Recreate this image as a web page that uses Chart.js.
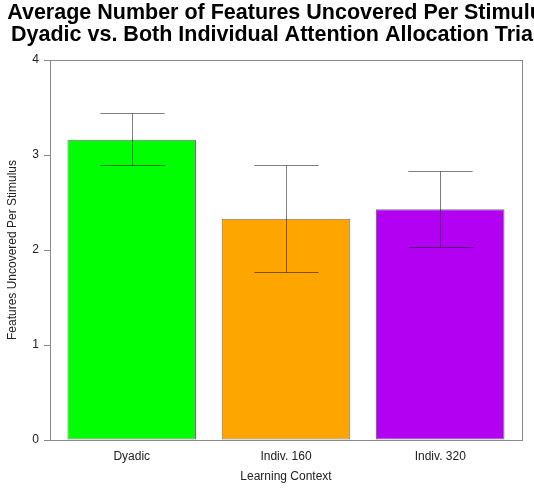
<!DOCTYPE html>
<html>
<head>
<meta charset="utf-8">
<script src="https://cdn.jsdelivr.net/npm/chart.js@4/dist/chart.umd.min.js"></script>
<style>
html,body{margin:0;padding:0;overflow:hidden;background:#fff;width:534px;height:494px;}
#wrap{width:562px;height:494px;}
</style>
</head>
<body>
<div id="wrap"><canvas id="c" width="562" height="494"></canvas></div>
<script>
const categories = ["Dyadic", "Indiv. 160", "Indiv. 320"];
const means = [3.16, 2.33, 2.43];
const lower = [2.89, 1.77, 2.03];
const upper = [3.44, 2.89, 2.83];
const barColors = ["#00FF00", "#FFA500", "#B300F2"];
const yTicks = [0, 1, 2, 3, 4];

const FONT = "'Liberation Sans', Arial, Helvetica, sans-serif";
// R barplot geometry: width 1, space 0.2
const pos = categories.map((c, i) => 0.7 + 1.2 * i);
const xMin = 0.2 - 0.04 * (1.2 * categories.length - 0.2);
const xMax = 1.2 * categories.length + 0.04 * (1.2 * categories.length - 0.2);

const errorBars = {
  id: 'errorBars',
  afterDatasetsDraw(chart) {
    const ctx = chart.ctx;
    const meta = chart.getDatasetMeta(0);
    const ys = chart.scales.y;
    ctx.save();
    ctx.strokeStyle = 'rgba(0,0,0,0.5)';
    ctx.lineWidth = 1;
    meta.data.forEach((bar, i) => {
      const x = Math.round(bar.x) + 0.5;
      const half = bar.width / 4;
      const yt = Math.round(ys.getPixelForValue(upper[i])) + 0.5;
      const yb = Math.round(ys.getPixelForValue(lower[i])) + 0.5;
      ctx.beginPath();
      ctx.moveTo(x, yt); ctx.lineTo(x, yb);
      ctx.moveTo(x - half, yt); ctx.lineTo(x + half, yt);
      ctx.moveTo(x - half, yb); ctx.lineTo(x + half, yb);
      ctx.stroke();
    });
    ctx.restore();
  }
};
const frame = {
  id: 'frame',
  afterDraw(chart) {
    const a = chart.chartArea;
    const ctx = chart.ctx;
    ctx.save();
    ctx.strokeStyle = '#8a8a8a';
    ctx.lineWidth = 1;
    ctx.strokeRect(Math.round(a.left) + 0.5, Math.round(a.top) + 0.5,
      Math.round(a.right - a.left), Math.round(a.bottom - a.top));
    ctx.restore();
  }
};

new Chart(document.getElementById('c'), {
  type: 'bar',
  data: {
    datasets: [{
      data: categories.map((c, i) => ({x: pos[i], y: means[i]})),
      backgroundColor: barColors,
      borderColor: 'rgba(0,0,0,0.55)',
      borderWidth: 1,
      borderSkipped: false,
      barPercentage: 1,
      categoryPercentage: 1 / 1.2
    }]
  },
  options: {
    responsive: false,
    animation: false,
    layout: {padding: 0},
    plugins: {
      legend: {display: false},
      tooltip: {enabled: false},
      title: {
        display: true,
        text: ['Average Number of Features Uncovered Per Stimulus',
               'Dyadic vs. Both Individual Attention Allocation Trials'],
        color: '#000',
        font: {family: FONT, size: 21.5, weight: 'bold', lineHeight: 1.05},
        padding: {top: 1.5, bottom: 13.35}
      }
    },
    scales: {
      x: {
        type: 'linear',
        offset: false,
        min: xMin,
        max: xMax,
        afterBuildTicks: s => { s.ticks = pos.map(v => ({value: v})); },
        afterFit: s => { s.height = 54; },
        grid: {display: false, offset: false},
        border: {display: false},
        ticks: {
          autoSkip: false,
          maxRotation: 0,
          padding: 1,
          color: '#222',
          font: {family: FONT, size: 12},
          callback: (v) => { const i = pos.findIndex(p => Math.abs(p - v) < 1e-6); return i >= 0 ? categories[i] : ''; }
        },
        title: {
          display: true,
          text: 'Learning Context',
          color: '#222',
          font: {family: FONT, size: 12},
          padding: {top: 0, bottom: 10}
        }
      },
      y: {
        min: 0,
        max: 4,
        afterBuildTicks: s => { s.ticks = yTicks.map(v => ({value: v})); },
        afterFit: s => { s.width = 50; },
        grid: {display: true, drawOnChartArea: false, drawTicks: true, tickLength: 6, color: '#8a8a8a'},
        border: {display: true, color: '#8a8a8a'},
        ticks: {
          padding: 5,
          color: '#222',
          font: {family: FONT, size: 12}
        },
        title: {
          display: true,
          text: 'Features Uncovered Per Stimulus',
          color: '#222',
          font: {family: FONT, size: 12},
          padding: {top: 5, bottom: 0}
        }
      },
      y2: {
        position: 'right',
        min: 0, max: 4,
        afterFit: s => { s.width = 40; },
        grid: {display: false},
        border: {display: false},
        ticks: {display: false},
        title: {display: false}
      }
    }
  },
  plugins: [errorBars, frame]
});
</script>
</body>
</html>
